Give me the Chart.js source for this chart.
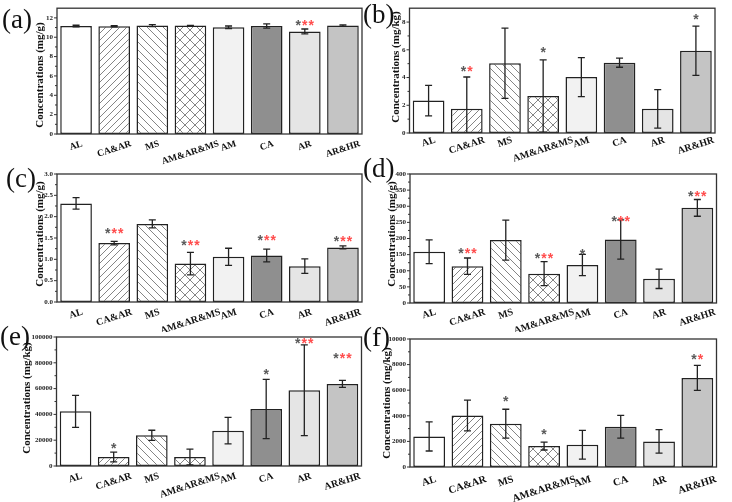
<!DOCTYPE html>
<html>
<head>
<meta charset="utf-8">
<script src="https://cdn.jsdelivr.net/npm/chart.js@4.4.1/dist/chart.umd.min.js"></script>
<style>
  body { margin: 0; background: #fff; width: 732px; height: 502px; position: relative; overflow: hidden; }
  canvas { position: absolute; }
</style>
</head>
<body>
<script>
"use strict";
let categories = ["AL", "CA&AR", "MS", "AM&AR&MS", "AM", "CA", "AR", "AR&HR"];

// g = grey star, r = red star
let valuesA = [11.16, 11.13, 11.2, 11.2, 11.03, 11.16, 10.6, 11.2];
let errorsA = [0.08, 0.07, 0.1, 0.03, 0.13, 0.22, 0.25, 0.08];
let starsA = ["", "", "", "", "", "", "grr", ""];
let starAtA = [0, 0, 0, 0, 0, 0, 11.5, 0];
let ticksA = [0, 2, 4, 6, 8, 10, 12];

let valuesB = [2.34, 1.74, 5.03, 2.67, 4.03, 5.07, 1.74, 5.93];
let errorsB = [1.1, 2.3, 2.53, 2.6, 1.41, 0.33, 1.39, 1.78];
let starsB = ["", "gr", "", "g", "", "", "", "g"];
let starAtB = [0, 4.58, 0, 5.97, 0, 0, 0, 8.4];
let ticksB = [0, 2, 4, 6, 8];

let valuesC = [2.31, 1.38, 1.83, 0.9, 1.06, 1.09, 0.84, 1.28];
let errorsC = [0.135, 0.04, 0.095, 0.265, 0.2, 0.15, 0.17, 0.035];
let starsC = ["", "grr", "", "grr", "", "grr", "", "grr"];
let starAtC = [0, 1.67, 0, 1.375, 0, 1.51, 0, 1.47];
let ticksC = [0, 0.5, 1.0, 1.5, 2.0, 2.5, 3.0];

let valuesD = [159, 114, 195, 91, 118, 197, 75, 295];
let errorsD = [37, 25.5, 62, 37, 33, 61, 30, 26];
let starsD = ["", "grr", "", "grr", "g", "grr", "", "grr"];
let starAtD = [0, 161, 0, 145, 158, 262, 0, 338];
let ticksD = [0, 50, 100, 150, 200, 250, 300, 350, 400];

let valuesE = [42400, 7000, 23800, 7000, 27400, 44200, 58700, 63600];
let errorsE = [12400, 3750, 3900, 6100, 10300, 23000, 35200, 2700];
let starsE = ["", "g", "", "", "", "g", "grr", "grr"];
let starAtE = [0, 15500, 0, 0, 0, 72900, 96700, 85300];
let ticksE = [0, 20000, 40000, 60000, 80000, 100000];

let valuesF = [2390, 4030, 3380, 1640, 1740, 3140, 2000, 6960];
let errorsF = [1140, 1200, 1130, 310, 1120, 890, 920, 975];
let starsF = ["", "", "g", "g", "", "", "", "gr"];
let starAtF = [0, 0, 5320, 2730, 0, 0, 0, 8620];
let ticksF = [0, 2000, 4000, 6000, 8000, 10000];

//hatch patterns for the bars
function hatch(kind, s) {
  let c = document.createElement("canvas");
  c.width = s;
  c.height = s;
  let g = c.getContext("2d");
  g.fillStyle = "#fff";
  g.fillRect(0, 0, s, s);
  g.strokeStyle = "#666";
  g.lineWidth = 0.8;
  g.beginPath();
  if (kind == "/" || kind == "x") {
    g.moveTo(0, s); g.lineTo(s, 0);
    g.moveTo(-1, 1); g.lineTo(1, -1);
    g.moveTo(s - 1, s + 1); g.lineTo(s + 1, s - 1);
  }
  if (kind == "\\" || kind == "x") {
    g.moveTo(0, 0); g.lineTo(s, s);
    g.moveTo(s - 1, -1); g.lineTo(s + 1, 1);
    g.moveTo(-1, s - 1); g.lineTo(1, s + 1);
  }
  g.stroke();
  return g.createPattern(c, "repeat");
}
let fills = ["#ffffff", hatch("/", 7), hatch("\\", 8), hatch("x", 10), "#f2f2f2", "#8f8f8f", "#e5e5e5", "#c4c4c4"];

let panels = [
  { tag: "(a)", unit: "(mg/g)", values: valuesA, errors: errorsA, stars: starsA, starAt: starAtA, ticks: ticksA, max: 13, dec: 0,
    canvas: { l: 0, t: 0, w: 366, h: 170 }, plot: { l: 57, t: 5, r: 362, b: 134 }, title: { x: 40.5, y: 75 }, lab: { x: 2, y: 28 }, gap: 6, fs: 9.5 },
  { tag: "(b)", unit: "(mg/kg)", values: valuesB, errors: errorsB, stars: starsB, starAt: starAtB, ticks: ticksB, max: 9, dec: 0,
    canvas: { l: 358, t: 0, w: 374, h: 170 }, plot: { l: 409.5, t: 4, r: 715, b: 133 }, title: { x: 396.5, y: 67 }, lab: { x: 363, y: 23 }, gap: 3, fs: 10 },
  { tag: "(c)", unit: "(mg/g)", values: valuesC, errors: errorsC, stars: starsC, starAt: starAtC, ticks: ticksC, max: 3, dec: 1,
    canvas: { l: 0, t: 160, w: 366, h: 172 }, plot: { l: 57, t: 174, r: 362, b: 302 }, title: { x: 40, y: 234 }, lab: { x: 6, y: 187 }, gap: 6, fs: 10 },
  { tag: "(d)", unit: "(mg/g)", values: valuesD, errors: errorsD, stars: starsD, starAt: starAtD, ticks: ticksD, max: 400, dec: 0,
    canvas: { l: 358, t: 155, w: 374, h: 177 }, plot: { l: 410, t: 174, r: 716.5, b: 303 }, title: { x: 392, y: 234 }, lab: { x: 363, y: 177 }, gap: 5, fs: 10 },
  { tag: "(e)", unit: "(mg/kg)", values: valuesE, errors: errorsE, stars: starsE, starAt: starAtE, ticks: ticksE, max: 100000, dec: 0,
    canvas: { l: 0, t: 324, w: 366, h: 178 }, plot: { l: 56.5, t: 337, r: 361.5, b: 466 }, title: { x: 27.5, y: 398 }, lab: { x: 0, y: 345 }, gap: 6, fs: 10 },
  { tag: "(f)", unit: "(mg/kg)", values: valuesF, errors: errorsF, stars: starsF, starAt: starAtF, ticks: ticksF, max: 10000, dec: 0,
    canvas: { l: 358, t: 324, w: 374, h: 178 }, plot: { l: 410, t: 339, r: 716.5, b: 467 }, title: { x: 387.5, y: 403 }, lab: { x: 363, y: 346 }, gap: 8, fs: 10.5 },
];

function extras(p) {
  return {
    id: "extras",
    afterDatasetsDraw(chart) {
      let ctx = chart.ctx;
      let y = chart.scales.y;
      let a = chart.chartArea;
      let bars = chart.getDatasetMeta(0).data;
      ctx.save();
      //error bars
      ctx.strokeStyle = "#222";
      ctx.lineWidth = 1.3;
      bars.forEach((bar, i) => {
        let v = p.values[i], e = p.errors[i];
        let top = Math.max(a.top, y.getPixelForValue(v + e));
        let bot = Math.min(a.bottom, y.getPixelForValue(v - e));
        ctx.beginPath();
        ctx.moveTo(bar.x, top); ctx.lineTo(bar.x, bot);
        ctx.moveTo(bar.x - 3.5, top); ctx.lineTo(bar.x + 3.5, top);
        if (v - e > 0) { ctx.moveTo(bar.x - 3.5, bot); ctx.lineTo(bar.x + 3.5, bot); }
        ctx.stroke();
      });
      //stars
      ctx.font = 'bold 14px "Liberation Sans"';
      let m = ctx.measureText("*");
      let mid = (m.actualBoundingBoxAscent - m.actualBoundingBoxDescent) / 2;
      ctx.textAlign = "center";
      ctx.textBaseline = "alphabetic";
      bars.forEach((bar, i) => {
        let s = p.stars[i];
        if (!s) return;
        let cy = y.getPixelForValue(p.starAt[i]);
        for (let k = 0; k < s.length; k++) {
          ctx.fillStyle = s[k] == "r" ? "#ff4d4d" : "#5a5a5a";
          ctx.fillText("*", bar.x + (k - (s.length - 1) / 2) * 6.5, cy + mid);
        }
      });
      ctx.restore();
    },
    afterDraw(chart) {
      let ctx = chart.ctx;
      let a = chart.chartArea;
      let y = chart.scales.y;
      let x = chart.scales.x;
      ctx.save();
      ctx.strokeStyle = "#333";
      ctx.lineWidth = 1.3;
      ctx.strokeRect(a.left, a.top, a.right - a.left, a.bottom - a.top);
      //major and minor ticks
      ctx.lineWidth = 1;
      ctx.beginPath();
      p.ticks.forEach((t, i) => {
        let py = y.getPixelForValue(t);
        ctx.moveTo(a.left, py); ctx.lineTo(a.left - 3, py);
        if (i < p.ticks.length - 1) {
          let my = y.getPixelForValue((t + p.ticks[i + 1]) / 2);
          ctx.moveTo(a.left, my); ctx.lineTo(a.left - 2, my);
        }
      });
      ctx.stroke();
      //category labels, tilted
      ctx.font = "bold " + p.fs + 'px "Liberation Serif"';
      ctx.fillStyle = "#111";
      let th = 18 * Math.PI / 180;
      categories.forEach((c, i) => {
        let px = x.getPixelForValue(i);
        let w = ctx.measureText(c).width;
        let bh = w * Math.sin(th) + p.fs * 0.8 * Math.cos(th);
        ctx.save();
        ctx.translate(px, a.bottom + p.gap + bh / 2);
        ctx.rotate(-th);
        ctx.textAlign = "center";
        ctx.textBaseline = "middle";
        ctx.fillText(c, 0, 0);
        ctx.restore();
      });
      //axis title
      ctx.font = 'bold 11px "Liberation Serif"';
      ctx.save();
      ctx.translate(p.title.x - p.canvas.l, p.title.y - p.canvas.t);
      ctx.rotate(-Math.PI / 2);
      ctx.textAlign = "center";
      ctx.textBaseline = "middle";
      ctx.fillText("Concentrations " + p.unit, 0, 0);
      ctx.restore();
      //panel tag
      ctx.font = '27px "Liberation Serif"';
      ctx.textAlign = "left";
      ctx.textBaseline = "alphabetic";
      ctx.fillText(p.tag, p.lab.x - p.canvas.l, p.lab.y - p.canvas.t);
      ctx.restore();
    },
  };
}

panels.forEach((p) => {
  let cv = document.createElement("canvas");
  cv.width = p.canvas.w;
  cv.height = p.canvas.h;
  cv.style.left = p.canvas.l + "px";
  cv.style.top = p.canvas.t + "px";
  document.body.appendChild(cv);
  new Chart(cv.getContext("2d"), {
    type: "bar",
    data: {
      labels: categories,
      datasets: [
        {
          data: p.values,
          backgroundColor: fills,
          borderColor: "#222",
          borderWidth: 1.5,
          borderSkipped: false,
          barPercentage: 0.83,
          categoryPercentage: 1,
        },
      ],
    },
    options: {
      responsive: false,
      animation: false,
      devicePixelRatio: 1,
      events: [],
      layout: {
        padding: {
          left: 0,
          top: p.plot.t - p.canvas.t,
          right: p.canvas.l + p.canvas.w - p.plot.r,
          bottom: p.canvas.t + p.canvas.h - p.plot.b,
        },
      },
      plugins: { legend: { display: false }, tooltip: { enabled: false } },
      scales: {
        x: {
          ticks: { display: false },
          grid: { display: false, drawTicks: false },
          border: { display: false },
          afterFit: (s) => { s.height = 0; },
        },
        y: {
          min: 0,
          max: p.max,
          grid: { display: false, drawTicks: false },
          border: { display: false },
          afterBuildTicks: (s) => { s.ticks = p.ticks.map((v) => ({ value: v })); },
          afterFit: (s) => { s.width = p.plot.l - p.canvas.l; },
          ticks: {
            padding: 4,
            color: "#222",
            font: { family: "Liberation Serif", weight: "bold", size: 7 },
            callback: (v) => Number(v).toFixed(p.dec),
          },
        },
      },
    },
    plugins: [extras(p)],
  });
});
</script>
</body>
</html>
